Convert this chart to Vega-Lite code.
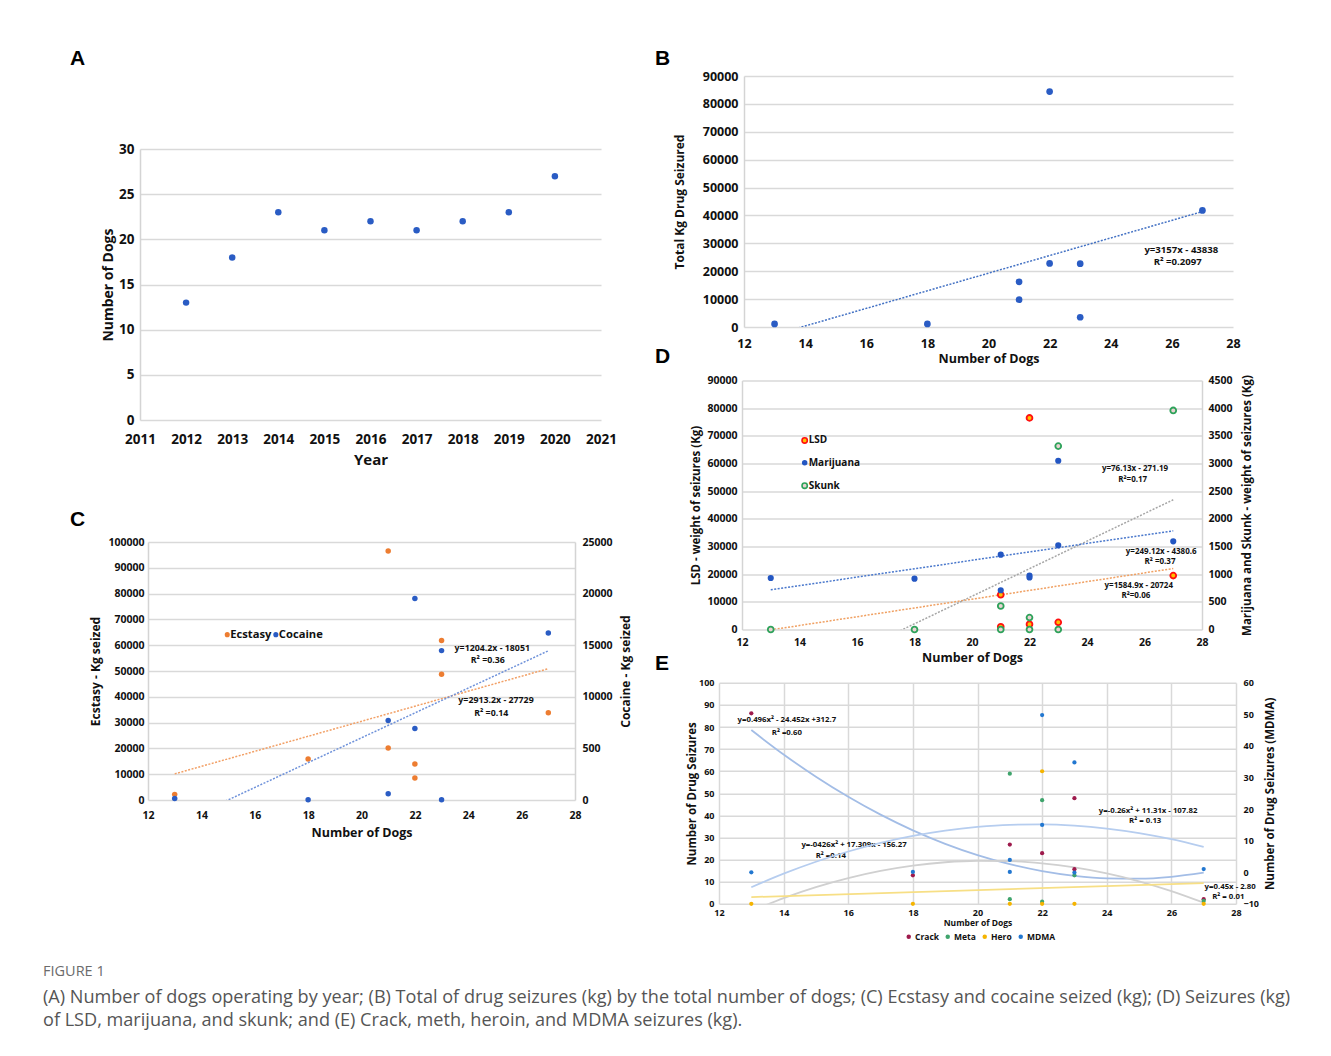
{
"$schema":"https://vega.github.io/schema/vega-lite/v6.json",
"autosize":{"type":"none"},
"padding":{"left":140,"top":76,"right":1191,"bottom":980},
"background":"#ffffff",
"title":{"text":"FIGURE 1","subtitle":["(A) Number of dogs operating by year; (B) Total of drug seizures (kg) by the total number of dogs; (C) Ecstasy and cocaine seized (kg); (D) Seizures (kg)","of LSD, marijuana, and skunk; and (E) Crack, meth, heroin, and MDMA seizures (kg)."],"orient":"bottom","anchor":"start","frame":"group","dx":-97,"offset":24,"font":"Open Sans","fontSize":14.5,"fontWeight":"normal","color":"#6b6b6b","subtitleFont":"Open Sans","subtitleFontSize":18.1,"subtitleFontWeight":"normal","subtitleColor":"#555555","subtitleLineHeight":23,"subtitlePadding":9},
"config":{
 "view":{"stroke":null},
 "font":"Open Sans",
 "axis":{"labelFont":"Open Sans","labelFontWeight":"bold","labelColor":"#111111","titleFont":"Open Sans","titleFontWeight":"bold","titleColor":"#111111","ticks":false,"gridColor":"#d9d9d9","gridWidth":1.5,"domainColor":"#d4d4d4","domainWidth":1.5,"labelFlush":false,"labelOverlap":false},
 "title":{"font":"Liberation Sans","fontWeight":"bold","fontSize":21,"color":"#000000","anchor":"start","frame":"group"},
 "text":{"font":"Open Sans"}
},
"datasets":{
 "a":[{"year":2012,"dogs":13},{"year":2013,"dogs":18},{"year":2014,"dogs":23},{"year":2015,"dogs":21},{"year":2016,"dogs":22},{"year":2017,"dogs":21},{"year":2018,"dogs":22},{"year":2019,"dogs":23},{"year":2020,"dogs":27}],
 "b_pts":[{"x":13,"y":1100},{"x":18,"y":1100},{"x":21,"y":9800},{"x":21,"y":16200},{"x":22,"y":22800},{"x":22,"y":84400},{"x":23,"y":22700},{"x":23,"y":3500},{"x":27,"y":41800}],
 "b_tr":[{"x":13,"y":-2797},{"x":27,"y":41401}],
 "b_lbl":[{"x":26.31,"y":27700,"t":"y=3157x - 43838"},{"x":26.19,"y":23300,"t":"R² =0.2097"}],
 "c_ecs":[{"x":13,"y":2200},{"x":18,"y":15900},{"x":21,"y":96500},{"x":21,"y":20200},{"x":22,"y":14000},{"x":22,"y":8550},{"x":23,"y":61800},{"x":23,"y":48800},{"x":27,"y":33800}],
 "c_coc":[{"x":13,"y":160},{"x":18,"y":40},{"x":21,"y":7700},{"x":21,"y":615},{"x":22,"y":19530},{"x":22,"y":6930},{"x":23,"y":14480},{"x":23,"y":30},{"x":27,"y":16190}],
 "c_ecs_tr":[{"x":13,"y":10143},{"x":27,"y":50927}],
 "c_coc_tr":[{"x":13,"y":-2396},{"x":27,"y":14462}],
 "c_lbl":[{"x":24.9,"y":58900,"t":"y=1204.2x - 18051"},{"x":24.73,"y":54400,"t":"R² =0.36"},{"x":25.04,"y":38700,"t":"y=2913.2x - 27729"},{"x":24.86,"y":33900,"t":"R² =0.14"}],
 "c_leg":[{"x":14.97,"y":64100,"s":"Ecstasy"},{"x":16.79,"y":64100,"s":"Cocaine"}],
 "d_lsd":[{"x":21,"y":12600},{"x":21,"y":1000},{"x":22,"y":76500},{"x":22,"y":1900},{"x":23,"y":2600},{"x":27,"y":19500}],
 "d_mar":[{"x":13,"y":932},{"x":18,"y":920},{"x":21,"y":1354},{"x":21,"y":710},{"x":22,"y":975},{"x":22,"y":940},{"x":23,"y":1522},{"x":23,"y":3050},{"x":27,"y":1595}],
 "d_sku":[{"x":13,"y":0},{"x":18,"y":0},{"x":21,"y":425},{"x":21,"y":0},{"x":22,"y":216},{"x":22,"y":0},{"x":23,"y":3315},{"x":23,"y":0},{"x":27,"y":3960}],
 "d_lsd_tr":[{"x":13,"y":-120},{"x":27,"y":22068}],
 "d_mar_tr":[{"x":13,"y":718.5},{"x":27,"y":1784.3}],
 "d_sku_tr":[{"x":13,"y":-1142},{"x":27,"y":2345.6}],
 "d_lbl":[{"x":25.67,"y":58000,"t":"y=76.13x - 271.19"},{"x":25.59,"y":54150,"t":"R²=0.17"},{"x":26.58,"y":28040,"t":"y=249.12x - 4380.6"},{"x":26.54,"y":24550,"t":"R² =0.37"},{"x":25.8,"y":15640,"t":"y=1584.9x - 20724"},{"x":25.7,"y":12150,"t":"R²=0.06"}],
 "d_leg":[{"x":14.18,"y":68350,"s":"LSD"},{"x":14.18,"y":60300,"s":"Marijuana"},{"x":14.18,"y":52000,"s":"Skunk"}],
 "e_left":[{"x":13,"y":86.2,"s":"Crack"},{"x":18,"y":12.9,"s":"Crack"},{"x":21,"y":26.8,"s":"Crack"},{"x":22,"y":22.9,"s":"Crack"},{"x":23,"y":47.8,"s":"Crack"},{"x":23,"y":15.7,"s":"Crack"},{"x":27,"y":2.1,"s":"Crack"},{"x":21,"y":58.9,"s":"Meta"},{"x":21,"y":2.1,"s":"Meta"},{"x":22,"y":46.9,"s":"Meta"},{"x":22,"y":1.0,"s":"Meta"},{"x":23,"y":12.9,"s":"Meta"},{"x":27,"y":1.3,"s":"Meta"},{"x":13,"y":0,"s":"Hero"},{"x":18,"y":0,"s":"Hero"},{"x":21,"y":0,"s":"Hero"},{"x":22,"y":60,"s":"Hero"},{"x":22,"y":0,"s":"Hero"},{"x":23,"y":0,"s":"Hero"},{"x":27,"y":0,"s":"Hero"}],
 "e_mdma":[{"x":13,"y":0,"s":"MDMA"},{"x":18,"y":0.1,"s":"MDMA"},{"x":21,"y":3.9,"s":"MDMA"},{"x":21,"y":0.1,"s":"MDMA"},{"x":22,"y":49.8,"s":"MDMA"},{"x":22,"y":15,"s":"MDMA"},{"x":23,"y":34.8,"s":"MDMA"},{"x":23,"y":-0.1,"s":"MDMA"},{"x":27,"y":1,"s":"MDMA"}],
 "e_crack_tr":[{"x":13,"y":78.65},{"x":14,"y":67.59},{"x":15,"y":57.52},{"x":16,"y":48.44},{"x":17,"y":40.36},{"x":18,"y":33.27},{"x":19,"y":27.17},{"x":20,"y":22.06},{"x":21,"y":17.94},{"x":22,"y":14.82},{"x":23,"y":12.69},{"x":24,"y":11.55},{"x":25,"y":11.4},{"x":26,"y":12.24},{"x":27,"y":14.08}],
 "e_meta_tr":[{"x":13,"y":-3.25},{"x":14,"y":2.56},{"x":15,"y":7.52},{"x":16,"y":11.62},{"x":17,"y":14.87},{"x":18,"y":17.27},{"x":19,"y":18.82},{"x":20,"y":19.51},{"x":21,"y":19.35},{"x":22,"y":18.34},{"x":23,"y":16.48},{"x":24,"y":13.77},{"x":25,"y":10.21},{"x":26,"y":5.79},{"x":27,"y":0.52}],
 "e_hero_tr":[{"x":13,"y":3.05},{"x":27,"y":9.35}],
 "e_mdma_tr":[{"x":13,"y":-4.73},{"x":14,"y":-0.44},{"x":15,"y":3.33},{"x":16,"y":6.58},{"x":17,"y":9.31},{"x":18,"y":11.52},{"x":19,"y":13.21},{"x":20,"y":14.38},{"x":21,"y":15.03},{"x":22,"y":15.16},{"x":23,"y":14.77},{"x":24,"y":13.86},{"x":25,"y":12.43},{"x":26,"y":10.48},{"x":27,"y":8.01}],
 "e_lbl":[{"x":14.1,"y":83.1,"t":"y=0.496x² - 24.452x +312.7"},{"x":14.1,"y":77.5,"t":"R² =0.60"},{"x":16.18,"y":26.8,"t":"y=-0426x² + 17.309x - 156.27"},{"x":15.46,"y":21.7,"t":"R² =0.14"},{"x":25.28,"y":41.8,"t":"y=-0.26x² + 11.31x - 107.82"},{"x":25.19,"y":37.5,"t":"R² = 0.13"},{"x":27.82,"y":7.6,"t":"y=0.45x - 2.80"},{"x":27.76,"y":3.3,"t":"R² = 0.01"}]
},
"concat":[
 {"concat":[
   {"concat":[
     {"width":1,"height":1,"data":{"values":[]},"mark":{"type":"point"},"encoding":{},"view":{"stroke":null}},
     {"width":461,"height":271,
      "title":{"text":"A","dx":-70,"offset":73},
      "data":{"name":"a"},
      "mark":{"type":"circle","size":42,"color":"#2a5cc4","opacity":1},
      "encoding":{
        "x":{"field":"year","type":"quantitative","scale":{"domain":[2011,2021],"nice":false,"zero":false},"axis":{"title":"Year","values":[2011,2012,2013,2014,2015,2016,2017,2018,2019,2020,2021],"format":"d","grid":false,"domain":false,"labelFontSize":13.5,"titleFontSize":15,"labelPadding":12,"titlePadding":7}},
        "y":{"field":"dogs","type":"quantitative","scale":{"domain":[0,30],"nice":false},"axis":{"title":"Number of Dogs","values":[0,5,10,15,20,25,30],"grid":true,"domain":true,"labelFontSize":13.5,"titleFontSize":14,"labelPadding":6,"titlePadding":3}}
      }}
   ],"columns":1,"align":"none","spacing":-28.95,"bounds":"full"},
   {"hconcat":[
     {"width":8,"height":1,"data":{"values":[]},"mark":{"type":"point"},"encoding":{},"view":{"stroke":null}},
     {"width":427,"height":258,
      "title":{"text":"C","dx":-78,"offset":7},
      "encoding":{"x":{"field":"x","type":"quantitative","scale":{"domain":[12,28],"nice":false,"zero":false},"axis":{"title":"Number of Dogs","values":[12,14,16,18,20,22,24,26,28],"grid":false,"domain":false,"labelFontSize":10.5,"titleFontSize":12.5,"labelPadding":10,"titlePadding":6}}},
      "layer":[
        {"encoding":{"y":{"field":"y","type":"quantitative","scale":{"domain":[0,100000],"nice":false},"axis":{"title":"Ecstasy - Kg seized","orient":"left","values":[0,10000,20000,30000,40000,50000,60000,70000,80000,90000,100000],"format":"d","grid":true,"domain":true,"labelFontSize":10.5,"titleFontSize":12,"labelPadding":4,"titlePadding":5}}},
         "layer":[
          {"data":{"name":"c_ecs_tr"},"mark":{"type":"line","clip":true,"color":"#f2a066","strokeWidth":1.5,"strokeDash":[2,1.5]},"encoding":{}},
          {"data":{"name":"c_ecs"},"mark":{"type":"circle","size":30,"color":"#ed7d31","opacity":1}},
          {"data":{"name":"c_lbl"},"mark":{"type":"text","fontWeight":"bold","fontSize":8.8,"align":"center","baseline":"middle","color":"#111111"},"encoding":{"text":{"field":"t"}}},
          {"data":{"name":"c_leg"},"transform":[{"filter":"datum.s == 'Ecstasy'"}],"mark":{"type":"circle","size":26,"opacity":1,"color":"#ed7d31"}},
          {"data":{"name":"c_leg"},"transform":[{"filter":"datum.s == 'Cocaine'"}],"mark":{"type":"circle","size":26,"opacity":1,"color":"#2a5cc4"}},
          {"data":{"name":"c_leg"},"mark":{"type":"text","fontWeight":"bold","fontSize":11.2,"align":"left","baseline":"middle","dx":3,"color":"#111111"},"encoding":{"text":{"field":"s"}}}
         ]},
        {"encoding":{"y":{"field":"y","type":"quantitative","scale":{"domain":[0,25000],"nice":false},"axis":{"title":"Cocaine - Kg seized","orient":"right","values":[0,5000,10000,15000,20000,25000],"format":"d","labelExpr":"datum.value == 5000 ? '500' : datum.label","grid":false,"domain":true,"labelFontSize":10.5,"titleFontSize":12,"labelPadding":7,"titlePadding":8,"titleAngle":270,"titleBaseline":"top"}}},
         "layer":[
          {"data":{"name":"c_coc_tr"},"mark":{"type":"line","clip":true,"color":"#6f92da","strokeWidth":1.5,"strokeDash":[2,1.5]},"encoding":{}},
          {"data":{"name":"c_coc"},"mark":{"type":"circle","size":30,"color":"#2a5cc4","opacity":1}}
         ]}
      ],
      "resolve":{"scale":{"y":"independent"}}}
   ],"spacing":0,"bounds":"flush"}
 ],"columns":1,"align":"none","spacing":41.05,"bounds":"full"},
 {"concat":[
   {"hconcat":[
     {"width":25,"height":1,"data":{"values":[]},"mark":{"type":"point"},"encoding":{},"view":{"stroke":null}},
     {"width":489,"height":251,
      "title":{"text":"B","dx":-89,"offset":1},
      "encoding":{
        "x":{"field":"x","type":"quantitative","scale":{"domain":[12,28],"nice":false,"zero":false},"axis":{"title":"Number of Dogs","values":[12,14,16,18,20,22,24,26,28],"grid":false,"domain":false,"labelFontSize":12.5,"titleFontSize":12.5,"labelPadding":10,"titlePadding":3}},
        "y":{"field":"y","type":"quantitative","scale":{"domain":[0,90000],"nice":false},"axis":{"title":"Total Kg Drug Seizured","values":[0,10000,20000,30000,40000,50000,60000,70000,80000,90000],"format":"d","grid":true,"domain":true,"labelFontSize":12.5,"titleFontSize":12,"labelPadding":6,"titlePadding":16}}
      },
      "layer":[
        {"data":{"name":"b_tr"},"mark":{"type":"line","clip":true,"color":"#4472c4","strokeWidth":1.5,"strokeDash":[2,1.5]},"encoding":{}},
        {"data":{"name":"b_pts"},"mark":{"type":"circle","size":45,"color":"#2a5cc4","opacity":1}},
        {"data":{"name":"b_lbl"},"mark":{"type":"text","fontWeight":"bold","fontSize":9.6,"align":"center","baseline":"middle","color":"#111111"},"encoding":{"text":{"field":"t"}}}
      ]}
   ],"spacing":0,"bounds":"flush"},
   {"concat":[
     {"hconcat":[
       {"width":23,"height":1,"data":{"values":[]},"mark":{"type":"point"},"encoding":{},"view":{"stroke":null}},
       {"width":460,"height":249,
        "title":{"text":"D","dx":-87,"offset":8},
        "encoding":{"x":{"field":"x","type":"quantitative","scale":{"domain":[12,28],"nice":false,"zero":false},"axis":{"title":"Number of Dogs","values":[12,14,16,18,20,22,24,26,28],"grid":false,"domain":false,"labelFontSize":10.5,"titleFontSize":12.5,"labelPadding":8,"titlePadding":3}}},
        "layer":[
          {"encoding":{"y":{"field":"y","type":"quantitative","scale":{"domain":[0,90000],"nice":false},"axis":{"title":"LSD - weight of seizures (Kg)","orient":"left","values":[0,10000,20000,30000,40000,50000,60000,70000,80000,90000],"format":"d","grid":true,"domain":true,"labelFontSize":10.5,"titleFontSize":11.5,"labelPadding":5,"titlePadding":5}}},
           "layer":[
            {"data":{"name":"d_lsd_tr"},"mark":{"type":"line","clip":true,"color":"#f0a062","strokeWidth":1.5,"strokeDash":[2,1.5]},"encoding":{}},
            {"data":{"name":"d_lsd"},"mark":{"type":"point","shape":"circle","size":34,"fill":"#ffc000","stroke":"#ff1010","strokeWidth":1.8,"opacity":1,"fillOpacity":1}},
            {"data":{"name":"d_lbl"},"mark":{"type":"text","fontWeight":"bold","fontSize":8,"align":"center","baseline":"middle","color":"#111111"},"encoding":{"text":{"field":"t"}}},
            {"data":{"name":"d_leg"},"transform":[{"filter":"datum.s == 'LSD'"}],"mark":{"type":"point","shape":"circle","size":28,"fill":"#ffc000","stroke":"#ff1010","strokeWidth":1.6,"opacity":1,"fillOpacity":1}},
            {"data":{"name":"d_leg"},"transform":[{"filter":"datum.s == 'Marijuana'"}],"mark":{"type":"circle","size":30,"color":"#2356c2","opacity":1}},
            {"data":{"name":"d_leg"},"transform":[{"filter":"datum.s == 'Skunk'"}],"mark":{"type":"point","shape":"circle","size":28,"fill":"#ead3d3","stroke":"#2ea25a","strokeWidth":1.6,"opacity":1,"fillOpacity":1}},
            {"data":{"name":"d_leg"},"mark":{"type":"text","fontWeight":"bold","fontSize":10,"align":"left","baseline":"middle","dx":4,"color":"#111111"},"encoding":{"text":{"field":"s"}}}
           ]},
          {"encoding":{"y":{"field":"y","type":"quantitative","scale":{"domain":[0,4500],"nice":false},"axis":{"title":"Marijuana and Skunk - weight of seizures (Kg)","orient":"right","values":[0,500,1000,1500,2000,2500,3000,3500,4000,4500],"format":"d","grid":false,"domain":true,"labelFontSize":10.5,"titleFontSize":11.5,"labelPadding":6,"titlePadding":9,"titleAngle":270,"titleBaseline":"top"}}},
           "layer":[
            {"data":{"name":"d_sku_tr"},"mark":{"type":"line","clip":true,"color":"#a6a6a6","strokeWidth":1.5,"strokeDash":[2,1.5]},"encoding":{}},
            {"data":{"name":"d_mar_tr"},"mark":{"type":"line","clip":true,"color":"#4a78cc","strokeWidth":1.5,"strokeDash":[2,1.5]},"encoding":{}},
            {"data":{"name":"d_mar"},"mark":{"type":"circle","size":38,"color":"#2356c2","opacity":1}},
            {"data":{"name":"d_sku"},"mark":{"type":"point","shape":"circle","size":34,"fill":"#ead3d3","stroke":"#2ea25a","strokeWidth":1.8,"opacity":1,"fillOpacity":1}}
           ]}
        ],
        "resolve":{"scale":{"y":"independent"}}}
     ],"spacing":0,"bounds":"flush"},
     {"width":517,"height":221,
      "title":{"text":"E","dx":-64,"offset":5},
      "encoding":{"x":{"field":"x","type":"quantitative","scale":{"domain":[12,28],"nice":false,"zero":false},"axis":{"title":"Number of Dogs","values":[12,14,16,18,20,22,24,26,28],"grid":true,"domain":false,"labelFontSize":9,"titleFontSize":8.5,"labelPadding":5,"titlePadding":1}}},
      "layer":[
        {"encoding":{"y":{"field":"y","type":"quantitative","scale":{"domain":[0,100],"nice":false},"axis":{"title":"Number of Drug Seizures","orient":"left","values":[0,10,20,30,40,50,60,70,80,90,100],"grid":true,"domain":false,"labelFontSize":9,"titleFontSize":11.5,"labelPadding":5,"titlePadding":1}}},
         "layer":[
          {"data":{"name":"e_crack_tr"},"mark":{"type":"line","clip":true,"interpolate":"monotone","color":"#a3bde6","strokeWidth":1.8},"encoding":{}},
          {"data":{"name":"e_meta_tr"},"mark":{"type":"line","clip":true,"interpolate":"monotone","color":"#d0d0d0","strokeWidth":1.8},"encoding":{}},
          {"data":{"name":"e_hero_tr"},"mark":{"type":"line","clip":true,"color":"#f7df85","strokeWidth":1.8},"encoding":{}},
          {"data":{"name":"e_left"},"mark":{"type":"circle","size":18,"opacity":1},"encoding":{"color":{"field":"s","type":"nominal","scale":{"domain":["Crack","Meta","Hero","MDMA"],"range":["#9e1a4c","#3fa46c","#f5b400","#2277d0"]},"legend":{"orient":"none","legendX":185.5,"legendY":249.5,"padding":0,"direction":"horizontal","title":null,"labelFontSize":8.5,"labelFontWeight":"bold","labelFont":"Open Sans","labelColor":"#111111","symbolSize":20,"symbolType":"circle","columnPadding":4,"labelOffset":2,"symbolStrokeWidth":0}}}},
          {"data":{"name":"e_lbl"},"mark":{"type":"text","fontWeight":"bold","fontSize":7.8,"align":"center","baseline":"middle","color":"#111111"},"encoding":{"text":{"field":"t"}}}
         ]},
        {"encoding":{"y":{"field":"y","type":"quantitative","scale":{"domain":[-10,60],"nice":false,"zero":false},"axis":{"title":"Number of Drug Seizures (MDMA)","orient":"right","values":[-10,0,10,20,30,40,50,60],"grid":false,"domain":false,"labelFontSize":9,"titleFontSize":11.5,"labelPadding":7,"titlePadding":6,"titleAngle":270,"titleBaseline":"top"}}},
         "layer":[
          {"data":{"name":"e_mdma_tr"},"mark":{"type":"line","clip":true,"interpolate":"monotone","color":"#b6cdef","strokeWidth":1.8},"encoding":{}},
          {"data":{"name":"e_mdma"},"mark":{"type":"circle","size":18,"opacity":1},"encoding":{"color":{"field":"s","type":"nominal","scale":{"domain":["Crack","Meta","Hero","MDMA"],"range":["#9e1a4c","#3fa46c","#f5b400","#2277d0"]},"legend":{"orient":"none","legendX":185.5,"legendY":249.5,"padding":0,"direction":"horizontal","title":null,"labelFontSize":8.5,"labelFontWeight":"bold","labelFont":"Open Sans","labelColor":"#111111","symbolSize":20,"symbolType":"circle","columnPadding":4,"labelOffset":2,"symbolStrokeWidth":0}}}}
         ]}
      ],
      "resolve":{"scale":{"y":"independent"}}}
   ],"columns":1,"align":"none","spacing":-10.7,"bounds":"full","resolve":{"scale":{"color":"independent"},"legend":{"color":"independent"}}}
 ],"columns":1,"align":"none","spacing":-19.45,"bounds":"full","resolve":{"scale":{"color":"independent"},"legend":{"color":"independent"}}}
],
"columns":2,
"align":"none",
"spacing":23,
"bounds":"full",
"resolve":{"scale":{"color":"independent"},"legend":{"color":"independent"}}
}
